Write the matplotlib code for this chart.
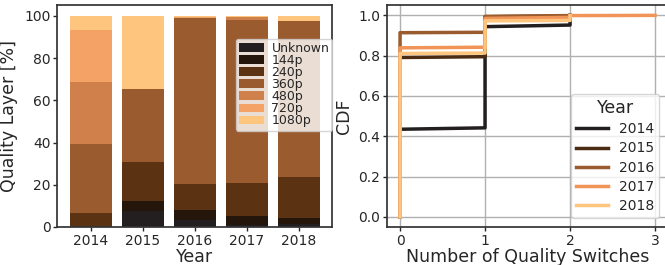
import matplotlib
matplotlib.use("Agg")
import matplotlib.pyplot as plt
import numpy as np

# ---- data: left panel (stacked percentages) ----
years = ["2014", "2015", "2016", "2017", "2018"]
qualities = ["Unknown", "144p", "240p", "360p", "480p", "720p", "1080p"]
unknown = [0.0, 7.7, 3.5, 0.8, 1.6]
q144 = [0.0, 4.6, 4.6, 4.4, 2.7]
q240 = [6.8, 18.5, 12.3, 15.7, 19.4]
q360 = [32.5, 34.6, 78.7, 77.2, 73.9]
q480 = [29.4, 0.0, 0.0, 1.3, 0.0]
q720 = [24.7, 0.0, 0.2, 0.0, 0.0]
q1080 = [6.6, 34.6, 0.7, 0.6, 2.4]
layer_values = [unknown, q144, q240, q360, q480, q720, q1080]
bar_colors = ["#231f20", "#24160b", "#5c3312", "#9a5b2e", "#d0804a", "#f4a266", "#fdc57d"]

# ---- data: right panel (CDF of number of quality switches) ----
cdf_x = {
    "2014": [0, 0, 1, 1, 2, 2],
    "2015": [0, 0, 1, 1, 2, 2],
    "2016": [0, 0, 1, 1, 2, 2],
    "2017": [0, 0, 1, 1, 2, 2, 3],
    "2018": [0, 0, 1, 1, 2, 2],
}
cdf_y = {
    "2014": [0.0, 0.435, 0.442, 0.944, 0.952, 1.0],
    "2015": [0.0, 0.791, 0.795, 0.993, 0.997, 1.0],
    "2016": [0.0, 0.914, 0.916, 0.995, 0.999, 1.0],
    "2017": [0.0, 0.839, 0.842, 0.985, 0.99, 0.999, 1.0],
    "2018": [0.0, 0.811, 0.813, 0.973, 0.975, 1.0],
}
line_colors = ["#231f20", "#4b2b12", "#9a5b2e", "#f09458", "#fdc57d"]

txt = "#262626"
plt.rcParams["font.family"] = ["DejaVu Sans"]
plt.rcParams["text.color"] = txt
plt.rcParams["axes.labelcolor"] = txt
plt.rcParams["xtick.color"] = txt
plt.rcParams["ytick.color"] = txt

fig = plt.figure(figsize=(6.65, 2.65), dpi=100)
ax1 = fig.add_axes([0.0862, 0.1434, 0.4137, 0.8366])
ax2 = fig.add_axes([0.5824, 0.1434, 0.4218, 0.8366])

x = np.arange(len(years))
bottom = np.zeros(len(years))
for q, vals, c in zip(qualities, layer_values, bar_colors):
    ax1.bar(x, vals, 0.8, bottom=bottom, color=c, label=q, linewidth=0)
    bottom += np.array(vals)
ax1.set_xticks(x)
ax1.set_xticklabels(years)
ax1.set_xlim(-0.64, 4.64)
ax1.set_ylim(0, 105)
ax1.set_yticks([0, 20, 40, 60, 80, 100])
ax1.set_xlabel("Year", fontsize=12.5, labelpad=0)
ax1.set_ylabel("Quality Layer [%]", fontsize=12.5)
ax1.tick_params(labelsize=10, length=3, width=1, pad=2)
leg1 = ax1.legend(loc="upper right", bbox_to_anchor=(1.0, 0.85), borderaxespad=0,
                  fontsize=9, labelspacing=-0.07, handlelength=2.0, handleheight=0.7,
                  handletextpad=0.6, framealpha=0.8, fancybox=True, borderpad=0.25)
leg1.get_frame().set_edgecolor("#cccccc")

for yr, c in zip(years, line_colors):
    ax2.plot(cdf_x[yr], cdf_y[yr], color=c, lw=2.5, label=yr)
ax2.set_xlim(-0.15, 3.15)
ax2.set_ylim(-0.05, 1.05)
ax2.set_xticks([0, 1, 2, 3])
ax2.set_yticks([0.0, 0.2, 0.4, 0.6, 0.8, 1.0])
ax2.grid(True, color="#b0b0b0", lw=1)
ax2.set_axisbelow(True)
ax2.set_xlabel("Number of Quality Switches", fontsize=12.5, labelpad=0)
ax2.set_ylabel("CDF", fontsize=12.5)
ax2.tick_params(labelsize=10, length=3, width=1, pad=2)
leg2 = ax2.legend(title="Year", loc="lower right", bbox_to_anchor=(0.97, 0.04),
                  fontsize=10, title_fontsize=12.5, handlelength=2.3,
                  labelspacing=0.38, framealpha=0.8, borderaxespad=0, borderpad=0.35)
leg2.get_frame().set_edgecolor("#cccccc")

for ax in (ax1, ax2):
    for s in ax.spines.values():
        s.set_color("#333333")
        s.set_linewidth(1.25)

fig.savefig("out.png", dpi=100)
